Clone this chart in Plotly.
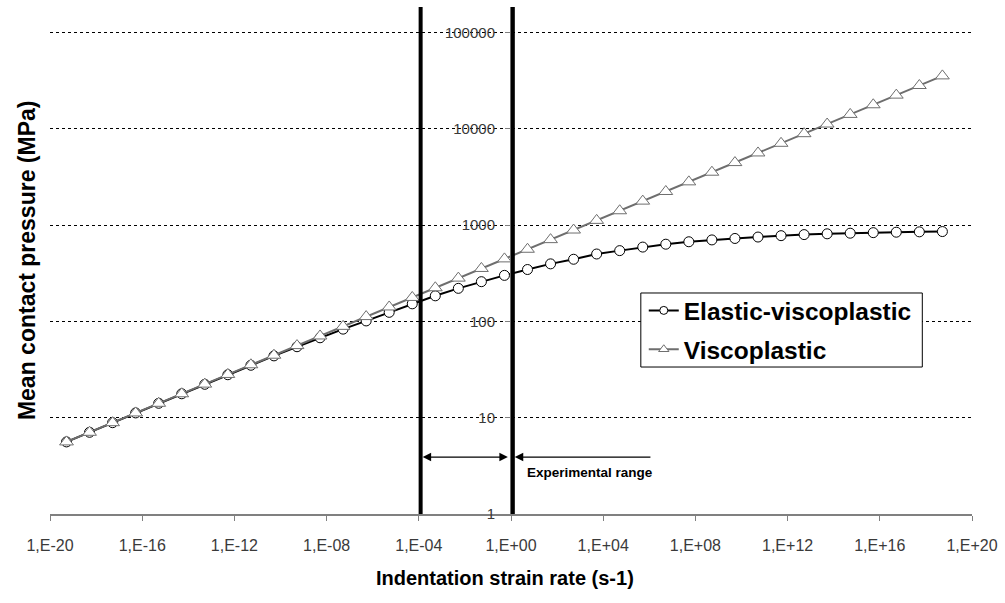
import math
import plotly.graph_objects as go

# Data
strain_rate = [5.2e-20, 5.2e-19, 5.2e-18, 5.2e-17, 5.2e-16, 5.2e-15, 5.2e-14, 5.2e-13,
               5.2e-12, 5.2e-11, 5.2e-10, 5.2e-09, 5.2e-08, 5.2e-07, 5.2e-06, 5.2e-05,
               5.2e-04, 5.2e-03, 5.2e-02, 5.2e-01, 5.2e+00, 5.2e+01, 5.2e+02, 5.2e+03,
               5.2e+04, 5.2e+05, 5.2e+06, 5.2e+07, 5.2e+08, 5.2e+09, 5.2e+10, 5.2e+11,
               5.2e+12, 5.2e+13, 5.2e+14, 5.2e+15, 5.2e+16, 5.2e+17, 5.2e+18]
elastic_viscoplastic = [5.6, 7.05, 8.87, 11.2, 14.1, 17.7, 22.2, 27.9, 35.0, 43.8,
                        54.5, 67.5, 83, 101, 124, 152, 184, 220, 258, 300,
                        345, 395, 441, 500, 542, 590, 632, 670, 700, 725,
                        750, 775, 795, 810, 822, 833, 842, 849, 855]
viscoplastic = [5.6, 7.05, 8.87, 11.2, 14.1, 17.7, 22.3, 28.1, 35.4, 44.5,
                56.0, 70.5, 88.7, 112, 141, 177, 223, 281, 354, 445,
                560, 705, 887, 1117, 1406, 1770, 2228, 2805, 3532, 4446,
                5598, 7047, 8872, 11169, 14061, 17702, 22285, 28055, 35320]

x_tick_vals = [1e-20, 1e-16, 1e-12, 1e-8, 1e-4, 1e0, 1e4, 1e8, 1e12, 1e16, 1e20]
x_tick_text = ["1,E-20", "1,E-16", "1,E-12", "1,E-08", "1,E-04", "1,E+00",
               "1,E+04", "1,E+08", "1,E+12", "1,E+16", "1,E+20"]
y_tick_vals = [1, 10, 100, 1000, 10000, 100000]
y_tick_text = ["1", "10", "100", "1000", "10000", "100000"]

range_bounds = [1.2e-4, 1.2]          # experimental range limits
double_arrow = [1.27e-4, 0.73]         # extent of the double-headed arrow
single_arrow = [1.46, 1.3e6]           # head, tail of the single arrow
arrow_level = 3.9                      # pressure level of the range arrows
label_pos = (2.8e3, 2.69)

FONT = "Arial, Liberation Sans, sans-serif"
lg = math.log10

fig = go.Figure()
fig.add_trace(go.Scatter(
    x=strain_rate, y=elastic_viscoplastic, name="Elastic-viscoplastic",
    mode="lines+markers", showlegend=False,
    line=dict(color="black", width=2),
    marker=dict(symbol="circle", size=10, color="white", line=dict(color="black", width=1)),
))
fig.add_trace(go.Scatter(
    x=strain_rate, y=viscoplastic, name="Viscoplastic",
    mode="lines+markers", showlegend=False,
    line=dict(color="#6e6e6e", width=2),
    marker=dict(symbol="triangle-up", size=12, color="white", line=dict(color="#6e6e6e", width=1)),
))
# Legend entries (smaller symbols as in the reference)
fig.add_trace(go.Scatter(
    x=[None], y=[None], name="Elastic-viscoplastic", mode="lines+markers",
    legendgroup="a", line=dict(color="black", width=2),
    marker=dict(symbol="circle", size=8, color="white", line=dict(color="black", width=1)),
))
fig.add_trace(go.Scatter(
    x=[None], y=[None], name="Viscoplastic", mode="lines+markers",
    legendgroup="b", line=dict(color="#6e6e6e", width=2),
    marker=dict(symbol="triangle-up", size=9, color="white", line=dict(color="#6e6e6e", width=1)),
))

# Legend frame
fig.add_shape(type="rect", xref="paper", yref="paper", x0=0.6408, x1=0.9461, y0=0.2899, y1=0.4359,
              line=dict(color="black", width=1), fillcolor="white", layer="above")

# Thick vertical lines bounding the experimental range
for xb in range_bounds:
    fig.add_shape(type="line", xref="x", yref="paper", x0=xb, x1=xb, y0=0, y1=1,
                  line=dict(color="black", width=4), layer="above")

# Double arrow between the bounds
fig.add_annotation(x=lg(double_arrow[1]), y=lg(arrow_level),
                   ax=lg(double_arrow[0]), ay=lg(arrow_level),
                   xref="x", yref="y", axref="x", ayref="y", text="", showarrow=True,
                   arrowhead=2, arrowside="end+start", arrowsize=1.3, arrowwidth=1.3,
                   arrowcolor="black", startarrowhead=2, startarrowsize=1.3)
# Single arrow pointing to the upper bound
fig.add_annotation(x=lg(single_arrow[0]), y=lg(arrow_level),
                   ax=lg(single_arrow[1]), ay=lg(arrow_level),
                   xref="x", yref="y", axref="x", ayref="y", text="", showarrow=True,
                   arrowhead=2, arrowsize=1.3, arrowwidth=1.3, arrowcolor="black")
fig.add_annotation(x=lg(label_pos[0]), y=lg(label_pos[1]), xref="x", yref="y",
                   text="<b>Experimental range</b>", showarrow=False,
                   font=dict(family=FONT, size=13.5, color="black"))

# Axis titles
fig.add_annotation(x=0.494, y=-0.1262, xref="paper", yref="paper",
                   text="<b>Indentation strain rate (s-1)</b>", showarrow=False,
                   font=dict(family=FONT, size=20, color="black"), yanchor="middle")
fig.add_annotation(x=-0.0254, y=0.5, xref="paper", yref="paper",
                   text="<b>Mean contact pressure (MPa)</b>", showarrow=False, textangle=-90,
                   font=dict(family=FONT, size=23, color="black"), xanchor="center")

fig.update_layout(
    width=1005, height=603,
    margin=dict(l=50, r=28, t=7, b=89),
    paper_bgcolor="white", plot_bgcolor="white",
    font=dict(family=FONT, color="#444"),
    showlegend=True,
    legend=dict(x=0.644, y=0.4458, xanchor="left", yanchor="top",
                bgcolor="rgba(0,0,0,0)", borderwidth=0,
                font=dict(family=FONT, size=24.5, color="black", weight="bold"),
                itemwidth=30, tracegroupgap=4),
    xaxis=dict(type="log", range=[-20, 20], tickvals=x_tick_vals, ticktext=x_tick_text,
               showgrid=False, zeroline=False, showline=True, linecolor="#808080", linewidth=2,
               ticks="outside", ticklen=5, tickcolor="#808080", tickwidth=1,
               ticklabeloverflow="allow",
               tickfont=dict(family=FONT, size=16, color="#3a3a3a"), ticklabelstandoff=11),
    yaxis=dict(type="log", range=[0, 5.263], tickvals=y_tick_vals, ticktext=y_tick_text,
               anchor="free", position=0.5, side="left",
               showgrid=True, gridcolor="black", gridwidth=1, griddash="3px,3px",
               zeroline=False, showline=True, linecolor="#808080", linewidth=2,
               ticks="outside", ticklen=5, tickcolor="#808080", ticklabelstandoff=7,
               tickfont=dict(family=FONT, size=15, color="#3a3a3a")),
)

fig.write_html("out.html", config={"displayModeBar": False},
               post_script="document.body.style.margin='0';document.body.style.overflow='hidden';")
